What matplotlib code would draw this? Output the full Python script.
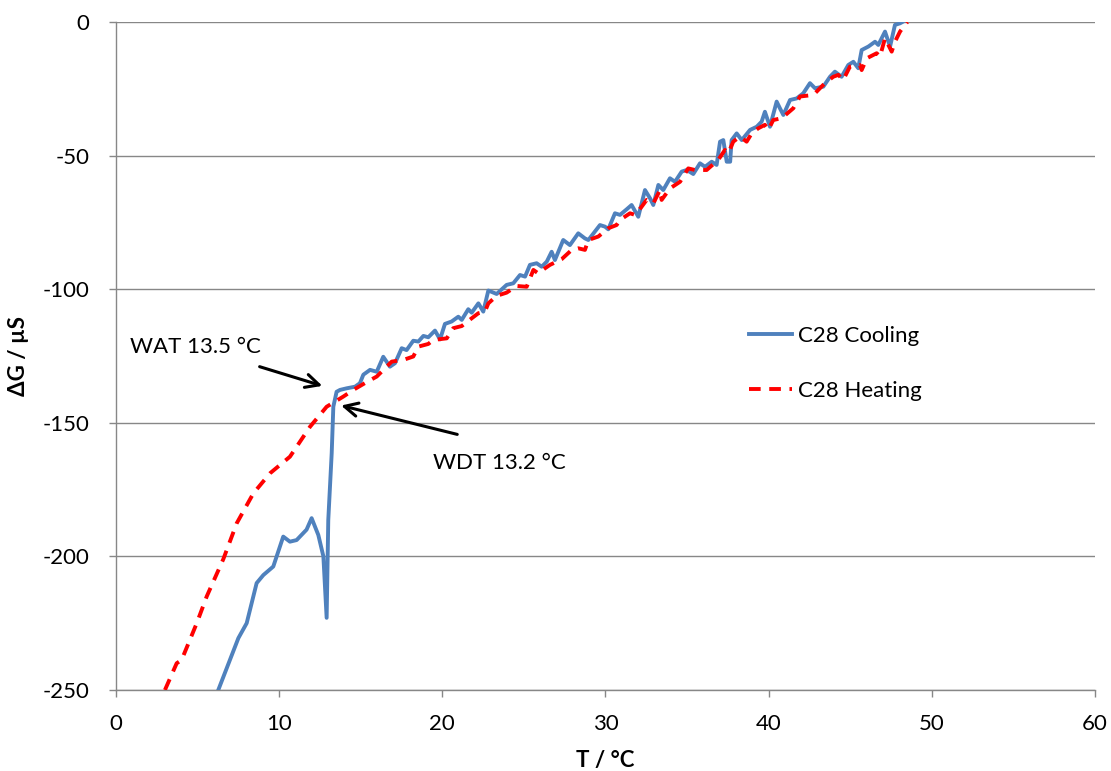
import matplotlib.pyplot as plt

plt.rcParams['font.family'] = ['Lato', 'DejaVu Sans']
plt.rcParams['axes.unicode_minus'] = False

# C28 cooling curve (T / °C, ΔG / µS)
cool_T = [6.27, 7.50, 8.01, 8.62, 9.03, 9.64, 10.25, 10.66, 11.07, 11.68, 11.99, 12.40, 12.71,
          12.91, 13.01, 13.22, 13.32, 13.52, 13.73, 14.14, 14.65, 14.95, 15.16, 15.57, 15.98,
          16.38, 16.79, 17.10, 17.51, 17.81, 18.22, 18.53, 18.84, 19.14, 19.55, 19.86, 20.16,
          20.57, 20.98, 21.19, 21.59, 21.80, 22.21, 22.51, 22.82, 23.33, 23.94, 24.35, 24.76,
          25.07, 25.37, 25.78, 26.09, 26.40, 26.70, 26.90, 27.41, 27.82, 28.33, 28.74, 28.95,
          29.66, 29.97, 30.17, 30.58, 30.89, 31.30, 31.60, 32.01, 32.42, 32.73, 32.93, 33.24,
          33.54, 33.95, 34.26, 34.67, 34.98, 35.38, 35.79, 36.10, 36.51, 36.81, 37.02, 37.22,
          37.43, 37.64, 37.73, 38.04, 38.35, 38.86, 39.27, 39.57, 39.77, 40.08, 40.49, 40.69,
          40.90, 41.31, 41.72, 42.12, 42.53, 42.84, 43.35, 43.76, 44.06, 44.47, 44.88, 45.19,
          45.49, 45.70, 46.11, 46.52, 46.72, 47.13, 47.44, 47.74, 48.05, 48.20]
cool_G = [-250.0, -230.6, -225.0, -210.0, -207.0, -203.8, -192.6, -194.5, -193.9, -190.0, -185.7,
          -192.0, -200.0, -223.0, -186.4, -161.4, -144.0, -138.4, -137.7, -137.1, -136.5, -135.2,
          -132.0, -130.2, -130.9, -125.3, -129.0, -127.7, -122.1, -122.8, -119.3, -119.6, -117.5,
          -118.0, -115.5, -118.8, -113.0, -112.1, -110.3, -111.5, -107.5, -108.8, -105.3, -108.4,
          -100.5, -101.8, -98.4, -97.8, -94.7, -95.3, -90.9, -90.3, -91.6, -89.7, -86.0, -89.1,
          -81.6, -83.5, -79.1, -81.0, -81.6, -76.0, -76.6, -77.6, -71.6, -72.2, -70.1, -68.5,
          -72.9, -62.9, -66.0, -68.5, -61.0, -62.9, -58.5, -59.8, -56.0, -55.4, -56.9, -52.9,
          -54.2, -52.3, -53.5, -44.8, -44.2, -52.3, -52.3, -44.2, -41.7, -44.2, -40.4, -39.2,
          -37.3, -33.6, -39.2, -29.8, -32.3, -34.8, -29.2, -28.6, -26.7, -22.9, -24.8, -24.2,
          -20.5, -18.6, -20.5, -16.1, -14.9, -17.3, -10.5, -9.2, -7.4, -8.6, -3.6, -9.2, -1.1,
          -0.5, 0.0]

# C28 heating curve
heat_T = [3.00, 3.72, 4.02, 4.95, 5.56, 6.58, 7.40, 8.42, 9.44, 10.66, 11.89, 12.91, 13.93,
          14.60, 15.30, 15.98, 16.90, 17.60, 18.22, 18.53, 19.14, 19.45, 20.27, 20.67, 21.19,
          21.80, 22.21, 22.61, 22.82, 23.33, 23.94, 24.56, 25.17, 25.58, 25.88, 26.29, 26.60,
          27.01, 27.31, 27.93, 28.33, 28.74, 28.95, 29.56, 30.17, 30.68, 30.89, 31.50, 31.81,
          32.22, 32.52, 32.93, 33.34, 33.44, 33.95, 34.57, 35.07, 35.48, 36.20, 36.91, 37.32,
          37.53, 37.83, 38.24, 38.65, 38.96, 39.36, 39.77, 39.98, 40.28, 40.80, 41.51, 41.92,
          42.74, 43.45, 43.96, 44.27, 44.57, 44.98, 45.59, 45.70, 46.01, 46.62, 46.82, 47.13,
          47.54, 47.74, 48.05, 48.35, 48.50]
heat_G = [-250.0, -240.0, -238.8, -225.0, -215.0, -201.0, -187.6, -176.4, -168.9, -162.7, -151.5,
          -144.0, -140.2, -137.5, -135.0, -132.7, -127.1, -126.5, -125.2, -121.5, -120.5, -119.0,
          -118.4, -114.6, -113.8, -110.9, -109.0, -108.4, -105.3, -102.5, -101.3, -98.8, -99.1,
          -92.8, -94.1, -92.2, -90.9, -89.7, -88.8, -85.3, -84.7, -85.3, -81.6, -80.3, -77.2,
          -76.0, -74.1, -71.6, -72.2, -69.1, -66.6, -67.9, -62.9, -66.6, -62.3, -59.8, -54.8,
          -55.4, -55.4, -51.6, -47.9, -49.1, -44.8, -42.9, -44.8, -41.7, -39.8, -38.5, -40.4,
          -36.7, -36.0, -32.3, -27.9, -27.3, -22.9, -20.5, -19.8, -21.7, -16.7, -16.1, -18.0,
          -13.6, -11.7, -13.0, -6.1, -11.1, -7.4, -3.6, -1.1, 0.0]

x_ticks = [0, 10, 20, 30, 40, 50, 60]
y_ticks = [0, -50, -100, -150, -200, -250]

FS = 16

fig = plt.figure(figsize=(11.11, 7.71), dpi=100)
ax = fig.add_axes([0.1044, 0.1051, 0.8812, 0.8664])

ax.plot(cool_T, cool_G, color='#4F81BD', lw=2.8, label='C28 Cooling', zorder=3,
        solid_joinstyle='round')
ax.plot(heat_T, heat_G, color='#FF0000', lw=2.8, dashes=(3.0, 2.2), label='C28 Heating', zorder=4)

ax.set_xlim(0, 60)
ax.set_ylim(-250, 0)
ax.set_xticks(x_ticks)
ax.set_yticks(y_ticks)
ax.yaxis.grid(True, color='#878787', lw=1)
ax.set_axisbelow(True)
for s in ['top', 'right']:
    ax.spines[s].set_visible(False)
for s in ['left', 'bottom']:
    ax.spines[s].set_color('#878787')
    ax.spines[s].set_linewidth(1)
ax.tick_params(direction='out', length=5, width=1, color='#878787', labelsize=FS)
ax.tick_params(axis='x', pad=12)
ax.tick_params(axis='y', pad=14)

ax.set_xlabel('T / °C', fontsize=FS, fontweight='bold', labelpad=12)
ax.set_ylabel('ΔG / µS', fontsize=FS, fontweight='bold', labelpad=10)

ax.annotate('', xy=(12.81, -136.5), xytext=(8.64, -128.7),
            arrowprops=dict(arrowstyle='->', color='black', lw=2.2, mutation_scale=24))
ax.annotate('', xy=(13.63, -143.3), xytext=(21.08, -154.6),
            arrowprops=dict(arrowstyle='->', color='black', lw=2.2, mutation_scale=24))
ax.text(0.86, -121.6, 'WAT 13.5 °C', fontsize=FS, va='center', ha='left')
ax.text(19.43, -165.0, 'WDT 13.2 °C', fontsize=FS, va='center', ha='left')

ax.legend(loc='center left', bbox_to_anchor=(0.6466, 0.489), frameon=False, fontsize=FS,
          borderpad=0, borderaxespad=0, handlelength=1.95, handletextpad=0.25,
          labelspacing=1.55)

fig.savefig('out.png', dpi=100)
